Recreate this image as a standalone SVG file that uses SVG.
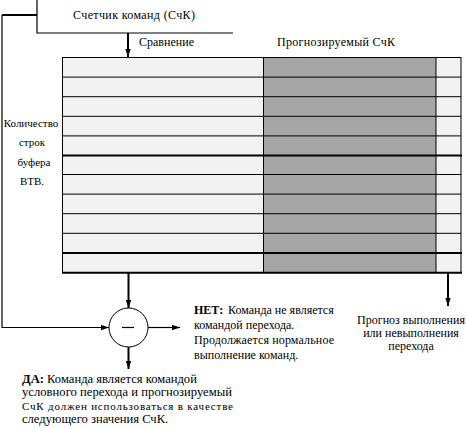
<svg xmlns="http://www.w3.org/2000/svg" width="466" height="428" viewBox="0 0 466 428">
<style>
  .t { font-family: "Liberation Serif", "Times New Roman", "DejaVu Serif", serif; font-size: 12px; fill: #000; }
  .s { font-size: 11px; }
  .d { font-size: 12.6px; }
  .b { font-weight: bold; }
  .ln { stroke: #000; fill: none; stroke-width: 1.2; }
  .wd { stroke: #000; fill: none; stroke-width: 2; }
  .row { stroke: #000; stroke-width: 1; }
  .thk { stroke: #000; stroke-width: 2; }
</style>
<defs>
  <marker id="ar" markerUnits="userSpaceOnUse" markerWidth="8" markerHeight="6" refX="8" refY="3" orient="auto">
    <path d="M0,0.3 L8,3 L0,5.7 Z" fill="#000"/>
  </marker>
</defs>
<rect width="466" height="428" fill="#fff"/>

<g id="counter">
  <path class="ln" d="M37,0 V33 H233"/>
  <text class="t" x="73" y="19" textLength="122">Счетчик команд (СчК)</text>
</g>

<g id="btb-table">
  <rect x="62" y="57" width="201" height="215.6" fill="#f2f2f2"/>
  <rect x="263" y="57" width="173" height="215.6" fill="#a6a6a6"/>
  <rect x="436" y="57" width="25" height="215.6" fill="#f2f2f2"/>
  <g class="row">
    <line x1="62" y1="57.5" x2="461" y2="57.5"/>
    <line x1="62" y1="77.1" x2="461" y2="77.1"/>
    <line x1="62" y1="96.7" x2="461" y2="96.7"/>
    <line x1="62" y1="116.3" x2="461" y2="116.3"/>
    <line x1="62" y1="135.9" x2="461" y2="135.9"/>
    <line x1="62" y1="174.5" x2="461" y2="174.5"/>
    <line x1="62" y1="194.1" x2="461" y2="194.1"/>
    <line x1="62" y1="213.7" x2="461" y2="213.7"/>
    <line x1="62" y1="233.3" x2="461" y2="233.3"/>
    <line x1="62.5" y1="57" x2="62.5" y2="272"/>
    <line x1="263.5" y1="57" x2="263.5" y2="272"/>
    <line x1="436" y1="57" x2="436" y2="272"/>
    <line x1="461" y1="57" x2="461" y2="272"/>
  </g>
  <g class="thk">
    <line x1="62" y1="155.5" x2="462" y2="155.5"/>
    <line x1="62" y1="253" x2="462" y2="253"/>
    <line x1="62" y1="272.7" x2="462" y2="272.7"/>
  </g>
  <text class="t" x="139" y="46" textLength="55">Сравнение</text>
  <text class="t" x="277" y="46" textLength="118">Прогнозируемый СчК</text>
  <g class="t s" text-anchor="middle">
    <text x="31" y="127">Количество</text>
    <text x="32" y="146">строк</text>
    <text x="34" y="165.5">буфера</text>
    <text x="32" y="185">ВТВ.</text>
  </g>
</g>

<g id="comparator">
  <circle cx="128.5" cy="327.5" r="19.5" fill="#fff" stroke="#000" stroke-width="1"/>
  <line x1="122" y1="327.5" x2="134" y2="327.5" stroke="#000" stroke-width="1.2"/>
</g>

<g id="no-text" class="t">
  <text x="194" y="314"><tspan class="b">НЕТ:</tspan><tspan x="228">Команда не является</tspan></text>
  <text x="194" y="329">командой перехода.</text>
  <text x="194" y="344" textLength="140">Продолжается нормальное</text>
  <text x="194" y="359">выполнение команд.</text>
</g>

<g id="yes-text" class="t d">
  <text x="22" y="383"><tspan class="b">ДА:</tspan> Команда является командой</text>
  <text x="22" y="396" textLength="210">условного перехода и прогнозируемый</text>
  <text x="22" y="410" class="s" textLength="211">СчК должен использоваться в качестве</text>
  <text x="22" y="423">следующего значения СчК.</text>
</g>

<g id="prediction-text" class="t" text-anchor="middle">
  <text x="411" y="324">Прогноз выполнения</text>
  <text x="411" y="337">или невыполнения</text>
  <text x="411" y="350">перехода</text>
</g>

<g id="connectors">
  <path class="wd" d="M2,15 H37"/>
  <path class="ln" d="M2,15 V327.5 H109" marker-end="url(#ar)"/>
  <path class="wd" d="M128,33 V57" marker-end="url(#ar)"/>
  <path class="wd" d="M128.5,273 V308" marker-end="url(#ar)"/>
  <path class="wd" d="M448,273 V306" marker-end="url(#ar)"/>
  <path class="ln" d="M148,327.5 H180" marker-end="url(#ar)"/>
  <path class="wd" d="M128.5,347 V369" marker-end="url(#ar)"/>
</g>
</svg>
